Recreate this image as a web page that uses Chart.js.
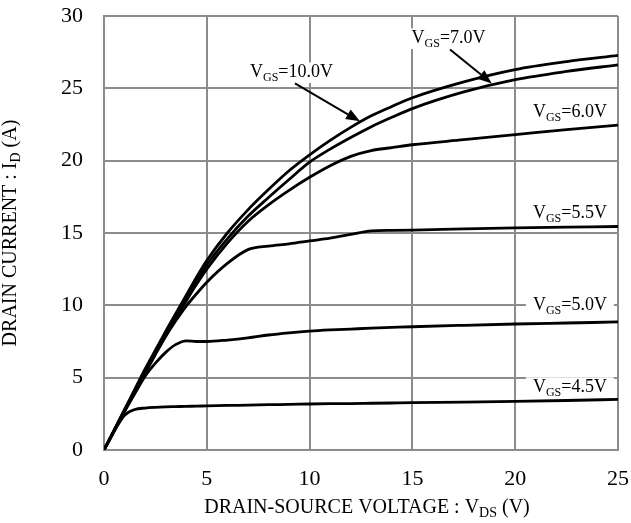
<!DOCTYPE html>
<html>
<head>
<meta charset="utf-8">
<script src="https://cdn.jsdelivr.net/npm/chart.js@4"></script>
<style>
  html, body { margin: 0; padding: 0; background: #fff; }
  canvas { display: block; }
</style>
</head>
<body>
<canvas id="chart" width="631" height="523"></canvas>
<script>
// drain-source voltage samples (V), shared by all curves
const vds = [0, 0.5, 1, 1.5, 2, 2.5, 3, 3.5, 4, 4.5, 5, 6, 7, 8, 9, 10, 11, 12, 13, 14, 15, 17.5, 20, 22.5, 25];

// drain current (A) for each gate-source voltage
const id10v = [0, 1.4, 2.8, 4.2, 5.6, 6.9, 8.2, 9.45, 10.7, 11.95, 13.1, 15.0, 16.6, 18.0, 19.3, 20.4, 21.4, 22.3, 23.1, 23.75, 24.35, 25.45, 26.3, 26.85, 27.28];
const id7v = [0, 1.35, 2.75, 4.1, 5.5, 6.8, 8.05, 9.3, 10.5, 11.7, 12.8, 14.6, 16.15, 17.45, 18.7, 19.9, 20.8, 21.6, 22.35, 23.0, 23.6, 24.75, 25.6, 26.17, 26.62];
const id6v = [0, 1.35, 2.7, 4.05, 5.4, 6.7, 7.95, 9.15, 10.3, 11.45, 12.5, 14.3, 15.8, 16.95, 17.95, 18.85, 19.65, 20.3, 20.7, 20.9, 21.1, 21.45, 21.8, 22.15, 22.46];
const id55v = [0, 1.35, 2.7, 4.0, 5.3, 6.6, 7.85, 8.95, 9.95, 10.8, 11.6, 12.9, 13.85, 14.1, 14.25, 14.45, 14.65, 14.9, 15.15, 15.18, 15.2, 15.28, 15.35, 15.4, 15.45];
const id5v = [0, 1.35, 2.65, 3.9, 5.1, 6.0, 6.75, 7.3, 7.55, 7.5, 7.5, 7.6, 7.75, 7.95, 8.1, 8.22, 8.3, 8.36, 8.42, 8.47, 8.52, 8.62, 8.71, 8.78, 8.85];
const id45v = [0, 1.3, 2.4, 2.8, 2.9, 2.95, 2.98, 3.0, 3.02, 3.03, 3.05, 3.08, 3.1, 3.13, 3.15, 3.18, 3.2, 3.21, 3.23, 3.25, 3.27, 3.31, 3.36, 3.42, 3.5];

// axis ticks
const xTicks = [0, 5, 10, 15, 20, 25];
const yTicks = [0, 5, 10, 15, 20, 25, 30];

// curve labels: value text, anchor (V, A) of baseline, alignment
const labelText = ['=10.0V', '=7.0V', '=6.0V', '=5.5V', '=5.0V', '=4.5V'];
const labelX = [7.1, 14.96, 24.46, 24.46, 24.46, 24.46];
const labelY = [25.8, 28.15, 23.03, 16.01, 9.675, 4.03];
const labelAlign = ['left', 'left', 'right', 'right', 'right', 'right'];

// arrows from label to curve: [x0, y0, x1, y1]
const arrows = [
  [9.29, 25.34, 12.45, 22.72],
  [16.83, 27.69, 18.86, 25.34]
];

const SERIF = "'Times New Roman', 'Liberation Serif', serif";
const GRID = '#8c8c8c';

function series(ys) {
  return {
    data: vds.map((v, i) => ({ x: v, y: ys[i] })),
    borderColor: '#000',
    borderWidth: 2.8,
    pointRadius: 0,
    showLine: true,
    fill: false,
    cubicInterpolationMode: 'monotone'
  };
}

// draws a main text with a subscripted part in between
function drawSub(ctx, pre, sub, post, x, y, size, align, box) {
  const big = size + 'px ' + SERIF;
  const small = Math.round(size * 0.68) + 'px ' + SERIF;
  ctx.font = big;
  const w1 = ctx.measureText(pre).width;
  const w3 = ctx.measureText(post).width;
  ctx.font = small;
  const w2 = ctx.measureText(sub).width;
  const total = w1 + w2 + w3;
  let left = x;
  if (align === 'right') left = x - total;
  if (align === 'center') left = x - total / 2;
  if (box) {
    ctx.fillStyle = '#fff';
    ctx.fillRect(left - 7, y - size * 0.8, total + 14, size * 1.15);
  }
  ctx.fillStyle = '#000';
  ctx.textBaseline = 'alphabetic';
  ctx.textAlign = 'left';
  ctx.font = big;
  ctx.fillText(pre, left, y);
  ctx.font = small;
  ctx.fillText(sub, left + w1, y + size * 0.22);
  ctx.font = big;
  ctx.fillText(post, left + w1 + w2, y);
}

const annotations = {
  id: 'annotations',
  beforeDatasetsDraw(chart) {
    const { ctx, scales: { x, y } } = chart;
    ctx.save();
    labelText.forEach((t, i) => {
      drawSub(ctx, 'V', 'GS', t, x.getPixelForValue(labelX[i]), y.getPixelForValue(labelY[i]), 18, labelAlign[i], true);
    });
    ctx.restore();
  },
  afterDatasetsDraw(chart) {
    const { ctx, scales: { x, y } } = chart;
    ctx.save();
    ctx.strokeStyle = '#000';
    ctx.fillStyle = '#000';
    ctx.lineWidth = 2;
    arrows.forEach(([a, b, c, d]) => {
      const x0 = x.getPixelForValue(a), y0 = y.getPixelForValue(b);
      const x1 = x.getPixelForValue(c), y1 = y.getPixelForValue(d);
      const ang = Math.atan2(y1 - y0, x1 - x0);
      const head = 14, half = 5.5;
      const bx = x1 - head * Math.cos(ang), by = y1 - head * Math.sin(ang);
      ctx.beginPath();
      ctx.moveTo(x0, y0);
      ctx.lineTo(bx, by);
      ctx.stroke();
      ctx.beginPath();
      ctx.moveTo(x1, y1);
      ctx.lineTo(bx + half * Math.sin(ang), by - half * Math.cos(ang));
      ctx.lineTo(bx - half * Math.sin(ang), by + half * Math.cos(ang));
      ctx.closePath();
      ctx.fill();
    });

    // axis titles
    const area = chart.chartArea;
    drawSub(ctx, 'DRAIN-SOURCE VOLTAGE : V', 'DS', ' (V)', (area.left + area.right) / 2 + 6, 513, 20, 'center', false);
    ctx.translate(16, (area.top + area.bottom) / 2);
    ctx.rotate(-Math.PI / 2);
    drawSub(ctx, 'DRAIN CURRENT : I', 'D', ' (A)', 0, 0, 20, 'center', false);
    ctx.restore();
  }
};

new Chart(document.getElementById('chart'), {
  type: 'scatter',
  data: {
    datasets: [series(id10v), series(id7v), series(id6v), series(id55v), series(id5v), series(id45v)]
  },
  options: {
    responsive: false,
    animation: false,
    devicePixelRatio: 1,
    layout: { padding: { top: 16, right: 13, left: 0, bottom: 0 } },
    plugins: { legend: { display: false }, tooltip: { enabled: false } },
    scales: {
      x: {
        type: 'linear',
        min: 0,
        max: 25,
        afterBuildTicks: (s) => { s.ticks = xTicks.map((v) => ({ value: v })); },
        afterFit: (s) => { s.height = 73; s.paddingLeft = 0; s.paddingRight = 0; },
        ticks: { font: { family: SERIF, size: 22 }, color: '#000', padding: 16, maxRotation: 0 },
        grid: { color: GRID, lineWidth: 2, drawTicks: false },
        border: { color: GRID, width: 2 }
      },
      y: {
        type: 'linear',
        min: 0,
        max: 30,
        afterBuildTicks: (s) => { s.ticks = yTicks.map((v) => ({ value: v })); },
        afterFit: (s) => { s.width = 104; s.paddingTop = 0; s.paddingBottom = 0; },
        ticks: { font: { family: SERIF, size: 22 }, color: '#000', padding: 21 },
        grid: { color: GRID, lineWidth: 2, drawTicks: false },
        border: { color: GRID, width: 2 }
      }
    }
  },
  plugins: [annotations]
});
</script>
</body>
</html>
